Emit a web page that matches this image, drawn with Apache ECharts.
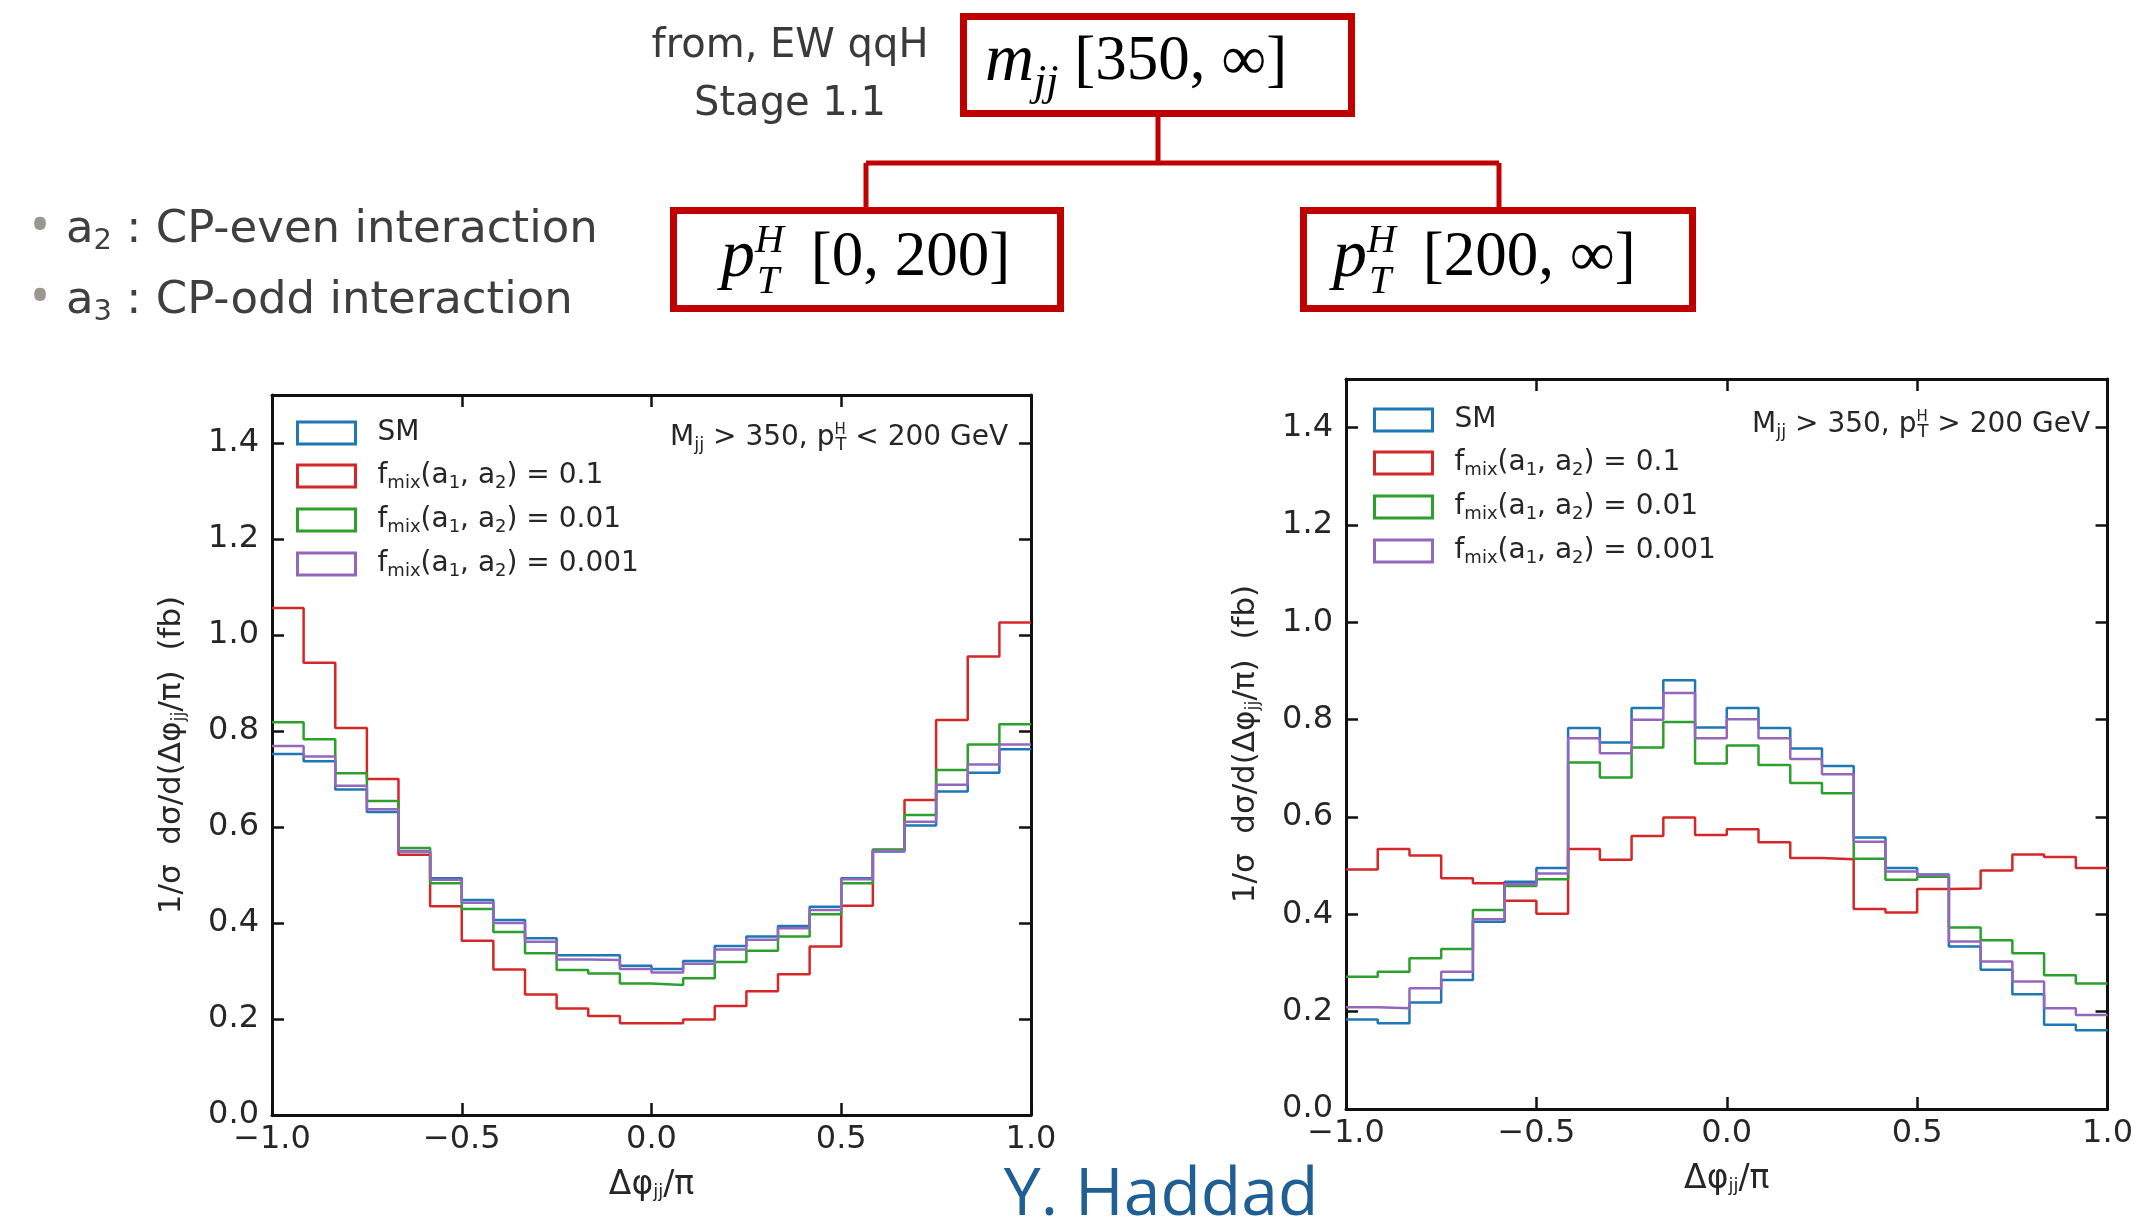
<!DOCTYPE html>
<html>
<head>
<meta charset="utf-8">
<script src="https://cdn.jsdelivr.net/npm/echarts@6/dist/echarts.min.js"></script>
<style>
html, body { margin: 0; padding: 0; background: #fff; }
#chart { width: 2136px; height: 1222px; }
</style>
</head>
<body>
<div id="chart"></div>
<script>
// 24 bins in dphi_jj / pi
const binEdges = [-1.0, -0.9167, -0.8333, -0.75, -0.6667, -0.5833, -0.5, -0.4167, -0.3333, -0.25, -0.1667, -0.0833,
    0.0, 0.0833, 0.1667, 0.25, 0.3333, 0.4167, 0.5, 0.5833, 0.6667, 0.75, 0.8333, 0.9167, 1.0]

// Mjj > 350, pT(H) < 200 GeV
const leftSM = [0.752, 0.737, 0.678, 0.631, 0.549, 0.493, 0.448, 0.406, 0.368, 0.333, 0.333, 0.311,
    0.304, 0.321, 0.352, 0.372, 0.394, 0.434, 0.493, 0.549, 0.603, 0.674, 0.713, 0.762]
const leftMix01 = [1.056, 0.942, 0.806, 0.700, 0.542, 0.435, 0.363, 0.303, 0.251, 0.222, 0.206, 0.191,
    0.191, 0.199, 0.227, 0.258, 0.293, 0.351, 0.436, 0.552, 0.656, 0.823, 0.955, 1.026]
const leftMix001 = [0.818, 0.783, 0.712, 0.654, 0.556, 0.483, 0.429, 0.381, 0.337, 0.302, 0.295, 0.274,
    0.271, 0.285, 0.319, 0.342, 0.372, 0.418, 0.483, 0.553, 0.625, 0.719, 0.772, 0.814]
const leftMix0001 = [0.769, 0.747, 0.686, 0.637, 0.550, 0.490, 0.442, 0.400, 0.361, 0.324, 0.323, 0.304,
    0.297, 0.315, 0.345, 0.365, 0.389, 0.427, 0.491, 0.550, 0.611, 0.688, 0.730, 0.772]

// Mjj > 350, pT(H) > 200 GeV
const rightSM = [0.184, 0.176, 0.219, 0.265, 0.385, 0.467, 0.495, 0.783, 0.753, 0.824, 0.881, 0.784,
    0.824, 0.783, 0.741, 0.705, 0.558, 0.495, 0.482, 0.334, 0.286, 0.236, 0.173, 0.162]
const rightMix01 = [0.492, 0.534, 0.521, 0.474, 0.464, 0.428, 0.401, 0.534, 0.512, 0.561, 0.599, 0.563,
    0.575, 0.548, 0.516, 0.513, 0.411, 0.404, 0.452, 0.453, 0.490, 0.523, 0.518, 0.495]
const rightMix001 = [0.272, 0.282, 0.310, 0.329, 0.409, 0.458, 0.472, 0.712, 0.681, 0.743, 0.795, 0.710,
    0.747, 0.707, 0.670, 0.649, 0.514, 0.471, 0.477, 0.373, 0.347, 0.320, 0.275, 0.258]
const rightMix0001 = [0.209, 0.207, 0.248, 0.282, 0.390, 0.462, 0.484, 0.762, 0.731, 0.800, 0.855, 0.762,
    0.801, 0.762, 0.719, 0.688, 0.549, 0.488, 0.481, 0.344, 0.303, 0.262, 0.207, 0.193]

const seriesNames = ['SM', 'mix 0.1', 'mix 0.01', 'mix 0.001']
const seriesColors = ['#1f77b4', '#d62728', '#2ca02c', '#9467bd']
const legendLabels = {
    'SM': 'SM',
    'mix 0.1': 'f{s|mix}(a{s|1}, a{s|2}) = 0.1',
    'mix 0.01': 'f{s|mix}(a{s|1}, a{s|2}) = 0.01',
    'mix 0.001': 'f{s|mix}(a{s|1}, a{s|2}) = 0.001'
}

const MPL = 'DejaVu Sans'
const INK = '#262626'
const RED = '#c00000'
const SLIDE = 'DejaVu Sans'
const SERIF = 'Liberation Serif'

// histogram as a step line through the bin edges
function stepData(vals) {
    const pts = vals.map((v, i) => [binEdges[i], v])
    pts.push([binEdges[binEdges.length - 1], vals[vals.length - 1]])
    return pts
}

function tickFmt(v) {
    return (v < 0 ? '\u2212' : '') + Math.abs(v).toFixed(1)
}

const subRich = {
    s: { fontSize: 18, fontFamily: MPL, color: INK, padding: [14, 0, 0, 0] },
    u: { fontSize: 15, fontFamily: MPL, color: INK, padding: [0, 0, 16, 0], width: 1, align: 'left' }
}

function xAxes(grid) {
    const frame = { show: true, onZero: false, lineStyle: { color: '#111', width: 3 } }
    const tick = { show: true, inside: true, length: 12, lineStyle: { color: '#111', width: 2.5 } }
    return [{
        type: 'value', gridIndex: grid, min: -1, max: 1, interval: 0.5,
        axisLine: frame, axisTick: tick, splitLine: { show: false },
        axisLabel: { formatter: tickFmt, fontFamily: MPL, fontSize: 32, color: INK, margin: 9 },
        name: '\u0394\u03c6{s|jj}/\u03c0', nameLocation: 'middle', nameGap: 54,
        nameTextStyle: { fontFamily: MPL, fontSize: 33, color: INK, rich: subRich }
    }, {
        type: 'value', gridIndex: grid, position: 'top', min: -1, max: 1, interval: 0.5,
        axisLine: frame, axisTick: tick, splitLine: { show: false }, axisLabel: { show: false }
    }]
}

function yAxes(grid) {
    const frame = { show: true, onZero: false, lineStyle: { color: '#111', width: 3 } }
    const tick = { show: true, inside: true, length: 12, lineStyle: { color: '#111', width: 2.5 } }
    return [{
        type: 'value', gridIndex: grid, min: 0, max: 1.5, interval: 0.2,
        axisLine: frame, axisTick: tick, splitLine: { show: false },
        axisLabel: { formatter: tickFmt, fontFamily: MPL, fontSize: 32, color: INK, margin: 13, showMaxLabel: false },
        name: '1/\u03c3  d\u03c3/d(\u0394\u03c6{s|jj}/\u03c0)  (fb)', nameLocation: 'middle', nameRotate: 90, nameGap: 84,
        nameTextStyle: { fontFamily: MPL, fontSize: 31, color: INK, rich: subRich }
    }, {
        type: 'value', gridIndex: grid, position: 'right', min: 0, max: 1.5, interval: 0.2,
        axisLine: frame, axisTick: tick, splitLine: { show: false }, axisLabel: { show: false }
    }]
}

function makeSeries(axisIdx, lists) {
    return lists.map((vals, i) => ({
        type: 'line',
        name: seriesNames[i],
        xAxisIndex: axisIdx,
        yAxisIndex: axisIdx,
        data: stepData(vals),
        step: 'end',
        symbol: 'none',
        lineStyle: { color: seriesColors[i], width: 2.5 },
        itemStyle: { color: seriesColors[i] }
    }))
}

function makeLegend(left, top) {
    return {
        left: left, top: top, orient: 'vertical', padding: 0,
        itemWidth: 58, itemHeight: 22, itemGap: 13, icon: 'rect', selectedMode: false,
        data: seriesNames.map((n, i) => ({
            name: n,
            itemStyle: { color: '#fff', borderColor: seriesColors[i], borderWidth: 3 }
        })),
        formatter: name => '{g|}' + legendLabels[name],
        textStyle: {
            fontFamily: MPL, fontSize: 28, color: INK, lineHeight: 30,
            rich: Object.assign({ g: { width: 17 } }, subRich)
        }
    }
}

function mathBox(x, y, w, h) {
    return { type: 'rect', shape: { x: x, y: y, width: w, height: h }, style: { fill: 'none', stroke: RED, lineWidth: 7 } }
}

function link(x1, y1, x2, y2) {
    return { type: 'line', shape: { x1: x1, y1: y1, x2: x2, y2: y2 }, style: { stroke: RED, lineWidth: 5 } }
}

const mathRich = {
    i: { fontFamily: SERIF, fontStyle: 'italic', fontSize: 68, color: '#111' },
    n: { fontFamily: SERIF, fontSize: 63, color: '#111' },
    sub: { fontFamily: SERIF, fontStyle: 'italic', fontSize: 44, color: '#111', padding: [42, 0, 0, 0] },
    hi: { fontFamily: SERIF, fontStyle: 'italic', fontSize: 40, color: '#111', padding: [0, 0, 34, 0], width: 2 },
    lo: { fontFamily: SERIF, fontStyle: 'italic', fontSize: 40, color: '#111', padding: [48, 0, 0, 0] }
}

function mathText(x, y, text) {
    return { type: 'text', style: { x: x, y: y, text: text, align: 'left', verticalAlign: 'middle', rich: mathRich } }
}

function bullet(y, text) {
    return [
        { type: 'text', style: { x: 40, y: y - 2, text: '\u2022', align: 'center', verticalAlign: 'middle', fontFamily: 'Open Sans', fontSize: 56, fill: '#9a9793' } },
        {
            type: 'text',
            style: {
                x: 66, y: y, text: text, align: 'left', verticalAlign: 'middle',
                fontFamily: SLIDE, fontSize: 45, fill: '#3f3f3f',
                rich: { b: { fontFamily: SLIDE, fontSize: 29, color: '#3f3f3f', padding: [22, 0, 0, 0] } }
            }
        }
    ]
}

const chart = echarts.init(document.getElementById('chart'))

chart.setOption({
    animation: false,
    backgroundColor: '#fff',
    grid: [
        { left: 272, top: 395, width: 759, height: 720 },
        { left: 1346, top: 379, width: 769, height: 730 }
    ],
    xAxis: xAxes(0).concat(xAxes(1)),
    yAxis: yAxes(0).concat(yAxes(1)),
    legend: [makeLegend(296, 418), makeLegend(1373, 405)],
    series: makeSeries(0, [leftSM, leftMix01, leftMix001, leftMix0001])
        .concat(makeSeries(2, [rightSM, rightMix01, rightMix001, rightMix0001])),
    graphic: [
        // category tree
        mathBox(963.5, 16.5, 388, 97),
        mathBox(673.5, 210.5, 387, 98),
        mathBox(1303.5, 210.5, 389, 98),
        link(1158, 113, 1158, 163),
        link(866, 163, 1499, 163),
        link(866, 163, 866, 210),
        link(1499, 163, 1499, 210),
        mathText(985, 62, '{i|m}{sub|jj}{n| [350, \u221e]}'),
        mathText(721, 258, '{i|p}{hi|H}{lo|T}{n|  [0, 200]}'),
        mathText(1333, 258, '{i|p}{hi|H}{lo|T}{n|  [200, \u221e]}'),
        {
            type: 'text',
            style: {
                x: 790, y: 76, text: 'from, EW qqH\nStage 1.1', align: 'center', verticalAlign: 'middle',
                fontFamily: SLIDE, fontSize: 40, lineHeight: 58, fill: '#3a3a3a'
            }
        }
    ].concat(bullet(230, 'a{b|2} : CP-even interaction'))
     .concat(bullet(301, 'a{b|3} : CP-odd interaction'))
     .concat([
        // in-plot annotations
        {
            type: 'text',
            style: {
                x: 670, y: 438, text: 'M{s|jj} > 350, p{u|H}{s|T} < 200 GeV', align: 'left', verticalAlign: 'middle',
                fontFamily: MPL, fontSize: 28, fill: INK, rich: subRich
            }
        },
        {
            type: 'text',
            style: {
                x: 1752, y: 425, text: 'M{s|jj} > 350, p{u|H}{s|T} > 200 GeV', align: 'left', verticalAlign: 'middle',
                fontFamily: MPL, fontSize: 28, fill: INK, rich: subRich
            }
        },
        // author
        {
            type: 'text',
            style: {
                x: 1161, y: 1196, text: 'Y. Haddad', align: 'center', verticalAlign: 'middle',
                fontFamily: 'Open Sans', fontSize: 66, fill: '#1f5f94'
            }
        }
    ])
})
</script>
</body>
</html>
